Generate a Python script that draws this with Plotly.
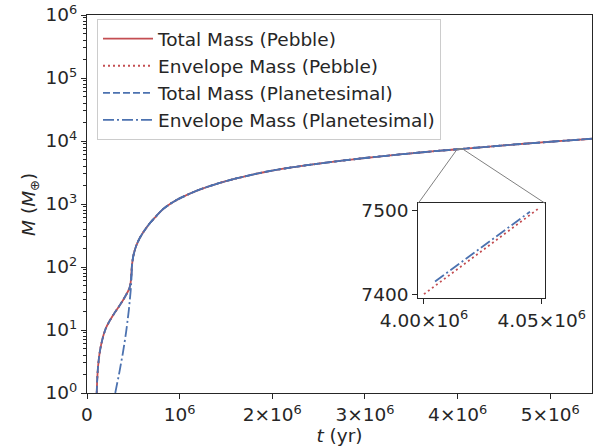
import plotly.graph_objects as go
import math

# ---------------- data ----------------
t_peb = [1.05e5, 1.10e5, 1.20e5, 1.35e5, 1.50e5, 1.75e5, 2.05e5, 2.45e5, 2.90e5, 3.40e5,
         3.90e5, 4.30e5, 4.55e5, 4.70e5, 4.78e5, 4.85e5, 5.00e5, 5.30e5, 5.70e5, 6.20e5,
         6.80e5, 7.50e5, 8.20e5, 9.00e5, 1.00e6, 1.20e6, 1.40e6, 1.60e6, 1.80e6, 2.00e6,
         2.25e6, 2.50e6, 2.75e6, 3.00e6, 3.25e6, 3.50e6, 3.75e6, 4.00e6, 4.05e6, 4.25e6,
         4.50e6, 4.75e6, 5.00e6, 5.25e6, 5.45e6]
m_total_peb = [1.0, 1.6, 2.7, 4.2, 5.6, 8.0, 10.8, 14.0, 18.0, 23.0,
               30.0, 38.0, 45.0, 55.0, 75.0, 105.0, 150.0, 215.0, 290.0, 380.0,
               500.0, 650.0, 830.0, 1010.0, 1230.0, 1660.0, 2090.0, 2520.0, 2960.0, 3400.0,
               3890.0, 4380.0, 4870.0, 5370.0, 5870.0, 6380.0, 6890.0, 7400.0, 7505.0, 7950.0,
               8520.0, 9120.0, 9730.0, 10350.0, 10850.0]
m_env_peb = list(m_total_peb)
m_total_plan = list(m_total_peb)

t_env_plan = [3.05e5, 3.20e5, 3.40e5, 3.60e5, 3.87e5, 4.05e5, 4.23e5, 4.40e5, 4.52e5, 4.62e5,
              4.70e5, 4.76e5, 4.82e5, 4.88e5] + t_peb[16:]
m_env_plan = [1.0, 1.3, 1.8, 2.6, 4.3, 6.3, 9.5, 15.0, 21.0, 30.0,
              40.0, 52.0, 75.0, 115.0] + m_total_peb[16:]

# inset (zoom) data
inset_t_peb = [4.0e6, 4.0483e6]
inset_m_peb = [7401, 7502]
inset_t_plan = [4.0047e6, 4.045e6]
inset_m_plan = [7416, 7499]

x_ticks = [0, 1e6, 2e6, 3e6, 4e6, 5e6]
x_ticktext = ["0", "10<sup>6</sup>", "2×10<sup>6</sup>", "3×10<sup>6</sup>",
              "4×10<sup>6</sup>", "5×10<sup>6</sup>"]
y_ticks = [1, 10, 100, 1e3, 1e4, 1e5, 1e6]
y_ticktext = ["10<sup>%d</sup>" % i for i in range(7)]

inset_xticks = [4.00e6, 4.05e6]
inset_xticktext = ["4.00×10<sup>6</sup>", "4.05×10<sup>6</sup>"]
inset_yticks = [7400, 7500]
inset_yticktext = ["7400", "7500"]

# ---------------- style ----------------
RED = "#C44E52"
BLUE = "#4C72B0"
TXT = "#262626"
FONT = "DejaVu Sans"
FS = 18.5
LW = 1.8
DASH = "7px,3px"
DOT = "2px,3px"
DASHDOT = "11px,3px,2px,3px"

x_range = [0, 5.45e6]
y_range_log = [0, 6]
in_xr = [3.99758e6, 4.0514e6]
in_yr = [7396, 7509]
in_dom_x = [0.656, 0.907]
in_dom_y = [0.2505, 0.502]

fig = go.Figure()
fig.add_trace(go.Scatter(x=t_peb, y=m_total_peb, mode="lines", name="Total Mass (Pebble)",
                         line=dict(color=RED, width=LW, shape="spline", smoothing=0.6)))
fig.add_trace(go.Scatter(x=t_peb, y=m_env_peb, mode="lines", name="Envelope Mass (Pebble)",
                         line=dict(color=RED, width=LW, dash=DOT, shape="spline", smoothing=0.6)))
fig.add_trace(go.Scatter(x=t_peb, y=m_total_plan, mode="lines", name="Total Mass (Planetesimal)",
                         line=dict(color=BLUE, width=LW, dash=DASH, shape="spline", smoothing=0.6)))
fig.add_trace(go.Scatter(x=t_env_plan, y=m_env_plan, mode="lines", name="Envelope Mass (Planetesimal)",
                         line=dict(color=BLUE, width=LW, dash=DASHDOT, shape="spline", smoothing=0.6)))

fig.add_trace(go.Scatter(x=inset_t_peb, y=inset_m_peb, mode="lines", showlegend=False,
                         line=dict(color=RED, width=LW, dash=DOT), xaxis="x2", yaxis="y2"))
fig.add_trace(go.Scatter(x=inset_t_plan, y=inset_m_plan, mode="lines", showlegend=False,
                         line=dict(color=BLUE, width=LW, dash=DASHDOT), xaxis="x2", yaxis="y2"))

axis_common = dict(showgrid=False, zeroline=False, showline=True, linecolor=TXT, linewidth=1.25,
                   ticks="outside", ticklen=5, tickwidth=1.25, tickcolor=TXT, automargin=False,
                   tickfont=dict(family=FONT, size=FS, color=TXT))

fig.update_layout(
    width=602, height=448,
    margin=dict(l=87, r=10, t=15, b=55),
    paper_bgcolor="white", plot_bgcolor="white",
    font=dict(family=FONT, size=FS, color=TXT),
    xaxis=dict(range=x_range, tickvals=x_ticks, ticktext=x_ticktext, mirror=True,
               title=dict(text="<i>t</i> (yr)", font=dict(family=FONT, size=FS, color=TXT), standoff=4),
               **axis_common),
    yaxis=dict(type="log", range=y_range_log, tickvals=y_ticks, ticktext=y_ticktext, mirror=True,
               minor=dict(ticks="outside", ticklen=3, tickwidth=1, tickcolor=TXT, dtick="D1", showgrid=False),
               **axis_common),
    xaxis2=dict(domain=in_dom_x, anchor="y2", range=in_xr, tickvals=inset_xticks,
                ticktext=inset_xticktext, mirror=True, **axis_common),
    yaxis2=dict(domain=in_dom_y, anchor="x2", range=in_yr, tickvals=inset_yticks,
                ticktext=inset_yticktext, mirror=True, **axis_common),
    legend=dict(x=0.0198, y=0.989, xanchor="left", yanchor="top",
                bgcolor="rgba(255,255,255,0.8)", bordercolor="#cccccc", borderwidth=1,
                font=dict(family=FONT, size=FS, color=TXT), itemwidth=50),
    showlegend=True,
)

# y-axis title placed as a rotated annotation
fig.add_annotation(text="<i>M</i> (<i>M</i><sub>⊕</sub>)", xref="paper", yref="paper",
                   x=-0.113, y=0.5, xanchor="center", yanchor="middle", textangle=-90,
                   showarrow=False, font=dict(family=FONT, size=FS, color=TXT))

# ---- mark_inset: rectangle + connector lines, mapped through the main axes ----
def px(t):
    return (t - x_range[0]) / (x_range[1] - x_range[0])

def py(m):
    return (math.log10(m) - y_range_log[0]) / (y_range_log[1] - y_range_log[0])

GRAY = "#808080"
fig.add_shape(type="rect", xref="paper", yref="paper",
              x0=px(in_xr[0]), x1=px(in_xr[1]), y0=py(in_yr[0]), y1=py(in_yr[1]),
              line=dict(color=GRAY, width=1))
fig.add_shape(type="line", xref="paper", yref="paper",
              x0=px(in_xr[0]), y0=py(in_yr[1]), x1=in_dom_x[0], y1=in_dom_y[1],
              line=dict(color=GRAY, width=1))
fig.add_shape(type="line", xref="paper", yref="paper",
              x0=px(in_xr[1]), y0=py(in_yr[1]), x1=in_dom_x[1], y1=in_dom_y[1],
              line=dict(color=GRAY, width=1))

fig.write_html("out.html")
